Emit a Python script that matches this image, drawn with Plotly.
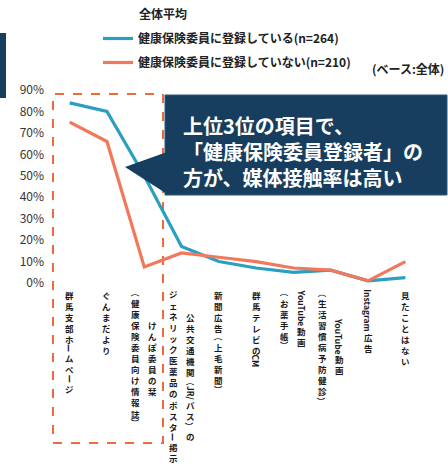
import plotly.graph_objects as go

# ---------------- data ----------------
categories = [
    "群馬支部ホームページ",
    "ぐんまだより",
    "けんぽ委員の栞（健康保険委員向け情報誌）",
    "公共交通機関（JR/バス）のジェネリック医薬品のポスター掲示",
    "新聞広告（上毛新聞）",
    "群馬テレビのCM",
    "YouTube動画（お薬手帳）",
    "YouTube動画（生活習慣病予防健診）",
    "Instagram広告",
    "見たことはない",
]
# how each category label is broken into vertical columns (right column first)
label_columns = [
    ["群馬支部ホームページ"],
    ["ぐんまだより"],
    ["けんぽ委員の栞", "（健康保険委員向け情報誌）"],
    ["公共交通機関（JR/バス）の", "ジェネリック医薬品のポスター掲示"],
    ["新聞広告（上毛新聞）"],
    ["群馬テレビのCM"],
    ["YouTube動画", "（お薬手帳）"],
    ["YouTube動画", "（生活習慣病予防健診）"],
    ["Instagram広告"],
    ["見たことはない"],
]
registered = [84, 80, 50, 17, 10, 7, 5, 6, 1, 2.5]
not_registered = [75, 66, 7.5, 14, 12, 10, 7, 6, 1, 10]
series_names = ["健康保険委員に登録している(n=264)", "健康保険委員に登録していない(n=210)"]
y_ticks = [0, 10, 20, 30, 40, 50, 60, 70, 80, 90]
y_tick_labels = ["0%", "10%", "20%", "30%", "40%", "50%", "60%", "70%", "80%", "90%"]
legend_title = "全体平均"
base_note = "(ベース:全体)"
callout_lines = ["上位3位の項目で、", "「健康保険委員登録者」の", "方が、媒体接触率は高い"]

# ---------------- layout constants ----------------
W, H = 448, 465
L, R, T, B = 51, 424, 90, 283
TEAL = "#2a9fbf"
CORAL = "#f2785c"
NAVY = "#173e5e"
JP = "Noto Sans CJK JP"


def px(xp):
    return (xp - L) / (R - L)


def py(yp):
    return (B - yp) / (B - T)


fig = go.Figure()
fig.add_trace(go.Scatter(x=categories, y=registered, mode="lines", name=series_names[0],
                         line=dict(color=TEAL, width=3.2), legendgroup="a"))
fig.add_trace(go.Scatter(x=categories, y=not_registered, mode="lines", name=series_names[1],
                         line=dict(color=CORAL, width=3.2), legendgroup="b"))

annotations = []
shapes = []

# ---------------- vertical category labels ----------------
FS = 8.5
PITCH = 1.3 * FS
COL_GAP = 17
TOP_GAP = 6
ROT = set("（）ー／/")


def is_rot(ch):
    return ch.isascii() or ch in ROT


def split_runs(s):
    runs = []
    for ch in s:
        r = is_rot(ch)
        if runs and runs[-1][0] == r:
            runs[-1][1] += ch
        else:
            runs.append([r, ch])
    return runs


def rot_width(s):
    w = 0
    for ch in s:
        if ch in "（）ー":
            w += FS * 1.0
        elif ch in "/／":
            w += FS * 0.4
        elif ch.isupper():
            w += FS * 0.62
        else:
            w += FS * 0.55
    return w


def run_len(run):
    rot, s = run
    return rot_width(s) if rot else len(s) * PITCH


for cat, cols in zip(categories, label_columns):
    n = len(cols)
    lens = [sum(run_len(r) for r in split_runs(c)) for c in cols]
    maxlen = max(lens)
    for k, col in enumerate(cols):
        xoff = (n - 1) / 2 * COL_GAP - k * COL_GAP
        pos = TOP_GAP + (maxlen - lens[k]) / 2
        for run in split_runs(col):
            ln = run_len(run)
            centre = pos + ln / 2
            rot, s = run
            annotations.append(dict(
                x=cat, xref="x", y=0, yref="paper",
                text=s if rot else "<br>".join(s),
                textangle=90 if rot else 0,
                xanchor="center", yanchor="middle",
                xshift=xoff, yshift=-centre,
                showarrow=False, borderpad=0,
                font=dict(family=JP, size=FS, color="#1a1a1a", weight="bold"),
            ))
            pos += ln

# ---------------- callout ----------------
shapes.append(dict(type="rect", xref="paper", yref="paper",
                   x0=px(165), x1=px(447), y0=py(195), y1=py(95),
                   fillcolor=NAVY, line=dict(color="#2c5878", width=1), layer="above"))
shapes.append(dict(type="path", xref="paper", yref="paper",
                   path=f"M {px(125)},{py(167)} L {px(167)},{py(152)} L {px(167)},{py(194)} Z",
                   fillcolor=NAVY, line=dict(width=0), layer="above"))
annotations.append(dict(
    x=px(181), y=py(151), xref="paper", yref="paper",
    xanchor="left", yanchor="middle", align="left", showarrow=False,
    text="<br>".join(callout_lines),
    font=dict(family=JP, size=20, color="white", weight="bold"),
))

# dashed highlight box around the top three items
shapes.append(dict(type="rect", xref="paper", yref="paper",
                   x0=px(53), x1=px(163), y0=py(443), y1=py(94),
                   line=dict(color="#ec6a3e", width=2, dash="dash"), layer="below"))
# slide edge bar
shapes.append(dict(type="rect", xref="paper", yref="paper",
                   x0=px(0), x1=px(6), y0=py(98), y1=py(33),
                   fillcolor=NAVY, line=dict(width=0)))

# legend title and base note
annotations.append(dict(x=px(137), y=py(14), xref="paper", yref="paper",
                        xanchor="left", yanchor="middle", showarrow=False, text=legend_title,
                        font=dict(family=JP, size=12, color="#222", weight="bold")))
annotations.append(dict(x=px(446), y=py(68), xref="paper", yref="paper",
                        xanchor="right", yanchor="middle", showarrow=False, text=base_note,
                        font=dict(family=JP, size=12, color="#222", weight="bold")))

fig.update_layout(
    width=W, height=H,
    margin=dict(l=L, r=W - R, t=T, b=H - B, pad=0, autoexpand=False),
    paper_bgcolor="white", plot_bgcolor="white",
    showlegend=True,
    legend=dict(x=px(98), y=py(24), xref="paper", yref="paper",
                xanchor="left", yanchor="top", tracegroupgap=5, traceorder="grouped",
                bgcolor="rgba(0,0,0,0)",
                font=dict(family=JP, size=12, color="#222", weight="bold")),
    xaxis=dict(type="category", showticklabels=False, showgrid=False, zeroline=False,
               showline=False, ticks="", range=[-0.5, len(categories) - 0.5]),
    yaxis=dict(range=[0, 90], tickmode="array", tickvals=y_ticks, ticktext=y_tick_labels,
               showgrid=False, zeroline=False, showline=False, ticks="", ticklabelstandoff=6,
               automargin=False, tickfont=dict(family=JP, size=12, color="#333")),
    annotations=annotations,
    shapes=shapes,
)

fig.write_html("out.html", config={"displayModeBar": False},
               post_script="document.body.style.margin='0';")
